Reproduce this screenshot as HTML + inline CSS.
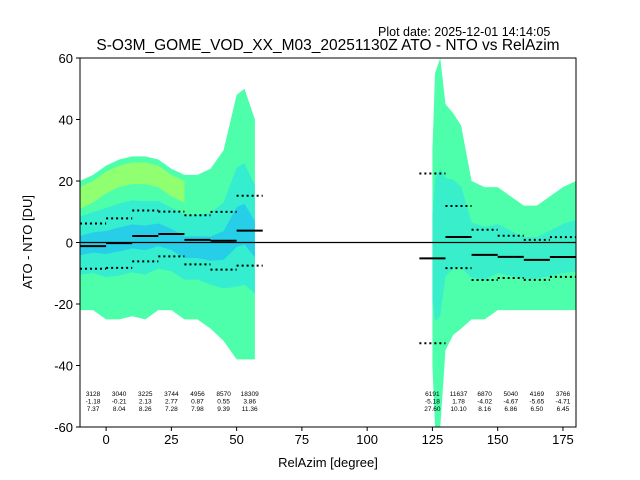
<!DOCTYPE html>
<html><head><meta charset="utf-8"><style>
body{margin:0;background:#fff;width:640px;height:480px;overflow:hidden}
svg{display:block;font-family:"Liberation Sans","DejaVu Sans",sans-serif}
</style></head><body>
<svg id="chart" width="640" height="480">
<text x="378" y="36" font-size="12.5">Plot date: 2025-12-01 14:14:05</text>
<text x="328" y="50" font-size="15.5" text-anchor="middle">S-O3M_GOME_VOD_XX_M03_20251130Z ATO - NTO vs RelAzim</text>
<g id="plot"></g>
<text x="328" y="467" font-size="13" text-anchor="middle">RelAzim [degree]</text>
<text transform="translate(32,242) rotate(-90)" font-size="13" text-anchor="middle">ATO - NTO [DU]</text>
</svg>
<script>
const xTicks=[0,25,50,75,100,125,150,175];
const yTicks=[-60,-40,-20,0,20,40,60];
// envelope of scatter cloud
const envX1=[-10,-5,0,5,10,15,20,25,30,35,40,45,50,53,57];
const envHi1=[20,22,25,27,28,28,27,24,22,22,24,30,48,50,40];
const envLo1=[-22,-22,-25,-25,-24,-25,-22,-22,-25,-25,-28,-32,-38,-38,-38];
const envX2=[125,126,128,130,133,136,140,145,150,155,160,165,170,175,180];
const envHi2=[30,55,60,45,42,38,20,18,18,15,12,12,15,18,20];
const envLo2=[-40,-60,-60,-35,-30,-28,-25,-25,-22,-22,-22,-22,-22,-22,-22];
// bin stats
const binStart=[-10,0,10,20,30,40,50,120,130,140,150,160,170];
const binCount=[3128,3040,3225,3744,4956,8570,18309,6191,11637,6870,5040,4169,3766];
const binMean=[-1.18,-0.21,2.13,2.77,0.87,0.55,3.86,-5.18,1.78,-4.02,-4.67,-5.65,-4.71];
const binStd=[7.37,8.04,8.26,7.28,7.98,9.39,11.36,27.60,10.10,8.16,6.86,6.50,6.45];

const X0=80,X1=576,Y0=58,Y1=427;
const sx=v=>X0+(v+10)/190*(X1-X0);
const sy=v=>Y0+(60-v)/120*(Y1-Y0);
const NS="http://www.w3.org/2000/svg";
const g=document.getElementById('plot');
function mk(t,a){const e=document.createElementNS(NS,t);for(const k in a)e.setAttribute(k,a[k]);g.appendChild(e);return e;}
function band(xs,hi,lo,f,fill,op,name){
  let pts=[];
  const m=(lo.map((l,i)=>(l+hi[i])/2));
  xs.forEach((x,i)=>pts.push(sx(x)+','+sy(m[i]+(hi[i]-m[i])*f)));
  for(let i=xs.length-1;i>=0;i--)pts.push(sx(xs[i])+','+sy(m[i]+(lo[i]-m[i])*f));
  const p=mk('polygon',{points:pts.join(' '),fill:fill,opacity:op});
  
  
}
band(envX1,envHi1,envLo1,1,'#4dffaa',1,'scatter-cloud-left');
band(envX1,envHi1,envLo1,0.45,'#30e8d8',0.8,'scatter-core-left');
band(envX1,envHi1,envLo1,0.15,'#1ab0ff',0.5,'scatter-center-left');
band(envX2,envHi2,envLo2,1,'#4dffaa',1,'scatter-cloud-right');
band(envX2,envHi2,envLo2,0.4,'#30e8d8',0.7,'scatter-core-right');
// yellow upper patch
(function(){
  const pts=[];
  for(let i=0;i<9;i++)pts.push(sx(envX1[i])+','+sy(envHi1[i]-2));
  for(let i=8;i>=0;i--)pts.push(sx(envX1[i])+','+sy(envHi1[i]-9));
  const p=mk('polygon',{points:pts.join(' '),fill:'#c8ff40',opacity:0.55});
  
  
})();
const zl=mk('line',{x1:X0,x2:X1,y1:sy(0),y2:sy(0),stroke:'#000','stroke-width':1.2});


binStart.forEach((b,i)=>{
  const x1=sx(b),x2=sx(b+10);
  const l=mk('line',{x1:x1,x2:x2,y1:sy(binMean[i]),y2:sy(binMean[i]),stroke:'#000','stroke-width':2});
  
  
  [1,-1].forEach(s=>{
    const d=mk('line',{x1:x1,x2:x2,y1:sy(binMean[i]+s*binStd[i]),y2:sy(binMean[i]+s*binStd[i]),stroke:'#000','stroke-width':2,'stroke-dasharray':'2,3'});
    
    
  });
  const t=mk('text',{x:sx(b+5),y:396,'font-size':6.5,'text-anchor':'middle'});
  
  
  [binCount[i],binMean[i].toFixed(2),binStd[i].toFixed(2)].forEach((s,k)=>{
    const ts=document.createElementNS(NS,'tspan');ts.setAttribute('x',sx(b+5));ts.setAttribute('dy',k?7.5:0);ts.textContent=s;t.appendChild(ts);
  });
});
const fr=mk('rect',{x:X0,y:Y0,width:X1-X0,height:Y1-Y0,fill:'none',stroke:'#000','stroke-width':1});


xTicks.forEach(v=>{
  mk('line',{x1:sx(v),x2:sx(v),y1:Y1,y2:Y1+4,stroke:'#000'});
  const t=mk('text',{x:sx(v),y:Y1+17,'font-size':13,'text-anchor':'middle'});t.textContent=v;
  
  
});
yTicks.forEach(v=>{
  mk('line',{x1:X0-4,x2:X0,y1:sy(v),y2:sy(v),stroke:'#000'});
  const t=mk('text',{x:X0-7,y:sy(v)+5,'font-size':13,'text-anchor':'end'});t.textContent=v;
  
  
});
</script>
</body></html>
